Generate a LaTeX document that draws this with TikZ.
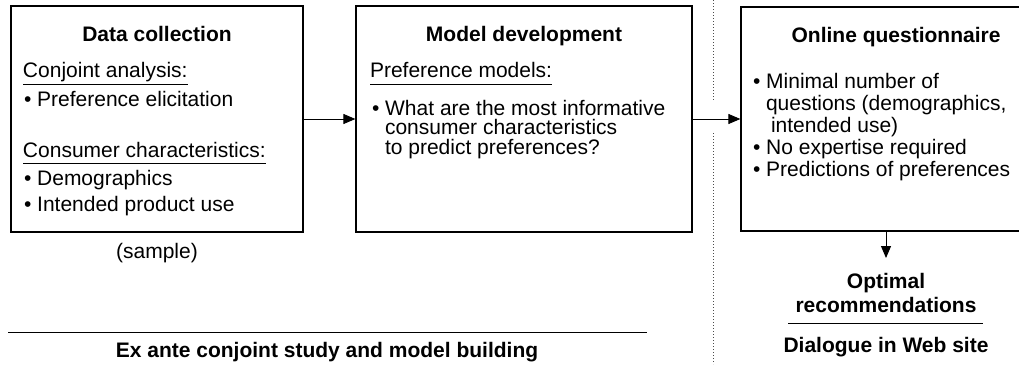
\documentclass[tikz,border=0pt]{standalone}
\usepackage{fontspec}
\setmainfont{Liberation Sans}
\usetikzlibrary{arrows.meta}
\newcommand\dfs{\fontsize{21}{25}\selectfont}
\begin{document}
\begin{tikzpicture}[x=1pt,y=-1pt,
  box/.style={draw, line width=1.2pt, rectangle, inner sep=0pt},
  txt/.style={inner sep=0pt, outer sep=0pt, font=\dfs, anchor=base west},
  ctxt/.style={inner sep=0pt, outer sep=0pt, font=\dfs, anchor=base},
  ttl/.style={inner sep=0pt, outer sep=0pt, font=\dfs\bfseries, anchor=base},
  arr/.style={-{Triangle[length=12pt,width=10pt]}, line width=1pt},
  uline/.style={line width=1pt},
  sep/.style={dotted, line width=1pt, black!70}]
\useasboundingbox (0,0) rectangle (1019,364);

% boxes
\node[box, minimum width=292pt, minimum height=226pt] (b1) at (157,119) {};
\node[box, minimum width=336pt, minimum height=226pt] (b2) at (524,119) {};
\node[box, minimum width=310pt, minimum height=224pt] (b3) at (896,119) {};

% box 1 text
\node[ttl] (t1) at (157,41) {Data collection};
\node[txt] (ca) at (23,77) {Conjoint analysis:};
\draw[uline] ([yshift=-7pt]ca.base west) -- ([yshift=-7pt]ca.base east);
\node[txt] (pe) at (24,106) {• Preference elicitation};
\node[txt] (cc) at (23,157) {Consumer characteristics:};
\draw[uline] ([yshift=-6pt]cc.base west) -- ([yshift=-6pt]cc.base east);
\node[txt] (dm) at (24,185) {• Demographics};
\node[txt] (ip) at (24,211) {• Intended product use};
\node[ctxt] (smp) at (157,258) {(sample)};

% box 2 text
\node[ttl] (t2) at (524,41) {Model development};
\node[txt] (pm) at (370,77) {Preference models:};
\draw[uline] ([yshift=-7pt]pm.base west) -- ([yshift=-7pt]pm.base east);
\node[txt] (w1) at (372,115) {• What are the most informative};
\node[txt] (w2) at (385,134.5) {consumer characteristics};
\node[txt] (w3) at (385,154) {to predict preferences?};

% box 3 text
\node[ttl] (t3) at (896,42) {Online questionnaire};
\node[txt] (q1) at (753,88) {• Minimal number of};
\node[txt] (q2) at (766,110) {questions (demographics,};
\node[txt] (q3) at (771,132) {intended use)};
\node[txt] (q4) at (753,154) {• No expertise required};
\node[txt] (q5) at (753,176) {• Predictions of preferences};

% connectors
\draw[arr] (b1.east) -- (b2.west);
\draw[arr] (b2.east) -- (b3.west);
\coordinate (optpt) at (886,258);
\draw[arr] (b3.south -| optpt) -- (optpt);

% right bottom
\node[ttl] (o1) at (886,288) {Optimal};
\node[ttl] (o2) at (886,312) {recommendations};
\draw[uline] (788,323) -- (983,323);
\node[ttl] (dw) at (886,352) {Dialogue in Web site};

% left bottom
\draw[uline] (8,332) -- (647,332);
\node[ttl] (ex) at (327,357) {Ex ante conjoint study and model building};

% dotted separator
\draw[sep] (713,0) -- (713,100);
\draw[sep] (713,133) -- (713,364);
\end{tikzpicture}
\end{document}
